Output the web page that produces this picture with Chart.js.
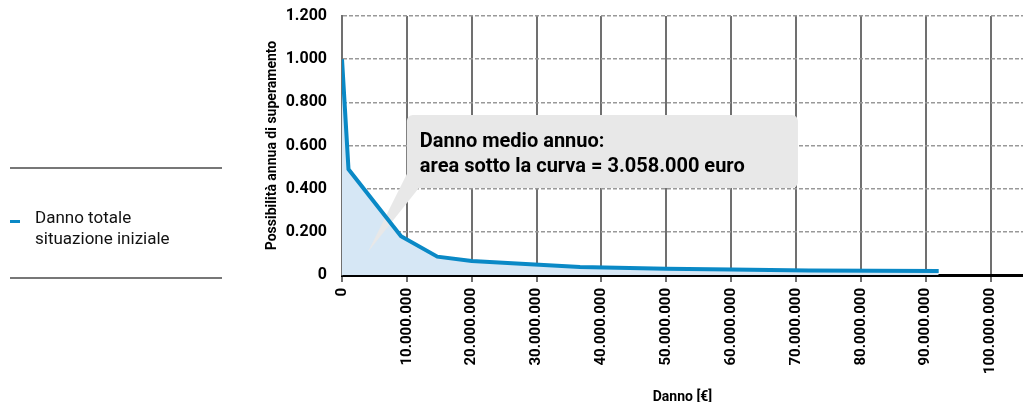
<!DOCTYPE html>
<html lang="it">
<head>
<meta charset="utf-8">
<title>Danno totale - situazione iniziale</title>
<script src="https://cdn.jsdelivr.net/npm/chart.js@4.4.1/dist/chart.umd.min.js"></script>
<style>
  body { margin: 0; background: #fff; font-family: Roboto, sans-serif; }
  #wrap { position: relative; width: 1023px; height: 402px; }
  #legend { position: absolute; left: 10px; top: 167px; width: 212px; height: 108px;
            border-top: 2px solid #777; border-bottom: 2px solid #777; }
  #legend .item { position: absolute; left: 25px; top: 38px; font-size: 17px; line-height: 21px; color: #111; }
  #legend .swatch { position: absolute; left: -25px; top: 13px; width: 10px; height: 3px; }
</style>
</head>
<body>
<div id="wrap">
  <canvas id="chart"></canvas>
  <div id="legend"></div>
</div>
<script>
// damage (euro) and annual exceedance probability
let damage = [0, 1000000, 9100000, 14700000, 20000000, 29000000, 36700000, 50000000, 60000000, 72000000, 92000000];
let probability = [1.0, 0.49, 0.18, 0.085, 0.065, 0.05, 0.037, 0.029, 0.026, 0.021, 0.018];

// x tick positions: 0 to 100 million every 10 million
let damageTicks = [0, 10000000, 20000000, 30000000, 40000000, 50000000, 60000000, 70000000, 80000000, 90000000, 100000000];

let seriesName = "Danno totale\nsituazione iniziale";
let lineColor = "#0a89c6";
let calloutLines = ["Danno medio annuo:", "area sotto la curva = 3.058.000 euro"];

function thousands(v) {
    return Math.round(v).toString().replace(/\B(?=(\d{3})+(?!\d))/g, ".");
}

// grey speech bubble: sits on top of the area fill, under the line
const callout = {
    id: "callout",
    beforeDatasetsDraw(chart) {
        let ctx = chart.ctx;
        let x = chart.scales.x, y = chart.scales.y;
        let left = x.getPixelForValue(10000000), right = x.getPixelForValue(70300000);
        let top = y.getPixelForValue(0.741), bottom = y.getPixelForValue(0.403);
        ctx.save();
        ctx.fillStyle = "#e8e8e8";
        ctx.beginPath();
        ctx.roundRect(left, top, right - left, bottom - top, 6);
        ctx.fill();
        ctx.beginPath();
        ctx.moveTo(left, bottom - 14);
        ctx.lineTo(left + 12, bottom);
        ctx.lineTo(x.getPixelForValue(4000000), y.getPixelForValue(0.107));
        ctx.closePath();
        ctx.fill();
        ctx.fillStyle = "#000";
        ctx.font = "bold 20px Roboto";
        ctx.textBaseline = "alphabetic";
        calloutLines.forEach((t, i) => ctx.fillText(t, left + 13, top + 32 + i * 25));
        ctx.restore();
    }
};

chart = new Chart(document.getElementById("chart"), {
    type: "line",
    data: {
        datasets: [{
            label: seriesName,
            data: damage.map((d, i) => ({ x: d, y: probability[i] })),
            borderColor: lineColor,
            borderWidth: 4,
            backgroundColor: "#d6e7f5",
            fill: "origin",
            pointRadius: 0,
            tension: 0
        }]
    },
    options: {
        responsive: true,
        maintainAspectRatio: false,
        animation: false,
        layout: { padding: { left: 264, right: 0, top: 16, bottom: 0 } },
        plugins: {
            legend: { display: false },
            tooltip: { enabled: false },
            filler: { drawTime: "beforeDatasetsDraw" }
        },
        scales: {
            x: {
                type: "linear",
                min: 0,
                max: 105000000,
                afterFit: s => { s.height = 127; },
                afterBuildTicks: s => { s.ticks = damageTicks.map(v => ({ value: v })); },
                grid: { color: "#707070", lineWidth: 2, tickLength: 7 },
                border: { color: "#000", width: 3 },
                ticks: {
                    autoSkip: false,
                    minRotation: 90,
                    maxRotation: 90,
                    padding: 6,
                    color: "#000",
                    font: { family: "Roboto", size: 15, weight: "bold" },
                    callback: v => thousands(v)
                },
                title: {
                    display: true,
                    text: "Danno [€]",
                    color: "#000",
                    padding: { top: 0, bottom: -2 },
                    font: { family: "Roboto", size: 14, weight: "bold", lineHeight: 1 }
                }
            },
            y: {
                min: 0,
                max: 1.2,
                afterFit: s => { s.width = 78; s.paddingTop = 0; },
                grid: { color: "#999", lineWidth: 1.5, drawTicks: false },
                border: { color: "#707070", width: 2, dash: [4, 2] },
                ticks: {
                    stepSize: 0.2,
                    padding: 15,
                    color: "#000",
                    font: { family: "Roboto", size: 16, weight: "bold" },
                    callback: v => v === 0 ? "0" : v.toFixed(3)
                },
                title: {
                    display: true,
                    text: "Possibilità annua di superamento",
                    color: "#000",
                    padding: 0,
                    font: { family: "Roboto", size: 14, weight: "bold" }
                }
            }
        }
    },
    plugins: [callout]
});

// legend on the left, built from the dataset
let legend = document.getElementById("legend");
chart.data.datasets.forEach(ds => {
    let item = document.createElement("div");
    item.className = "item";
    item.innerHTML = ds.label.split("\n").join("<br>");
    let sw = document.createElement("span");
    sw.className = "swatch";
    sw.style.background = ds.borderColor;
    item.appendChild(sw);
    legend.appendChild(item);
});
</script>
</body>
</html>
